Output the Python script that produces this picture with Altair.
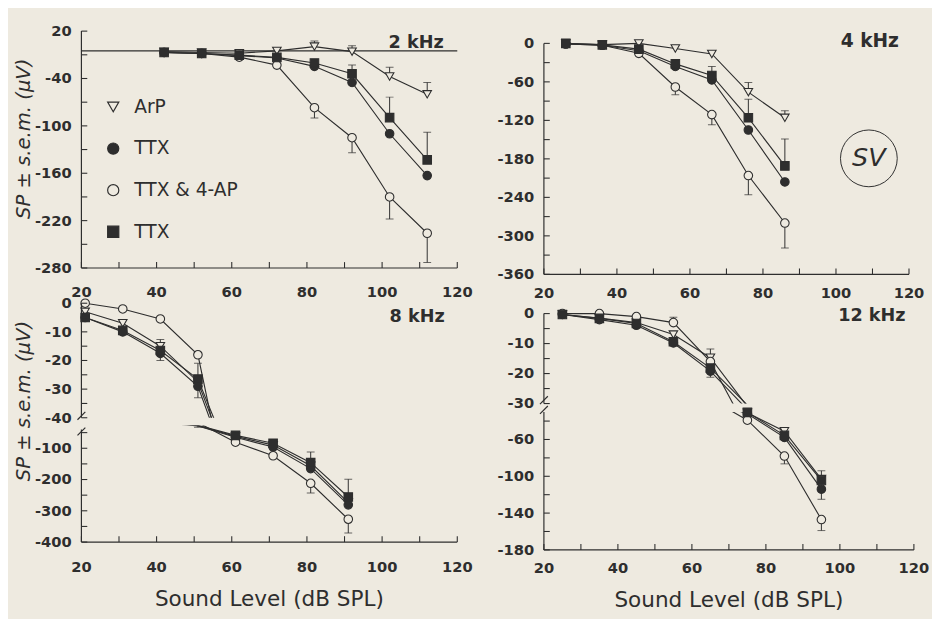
import altair as alt
import pandas as pd

SERIES = ["ArP", "TTX", "TTX & 4-AP", "TTX2"]
SHAPES = ["triangle-down", "circle", "circle", "square"]
INK = "#2e2e2e"
BG = "#eeeae0"
FILLS = [BG, INK, BG, INK]
STROKES = [INK, INK, INK, INK]
FONT = "DejaVu Sans"

X_LABELS = [20, 40, 60, 80, 100, 120]
X_TICKS = [20, 30, 40, 50, 60, 70, 80, 90, 100, 110, 120]

# ---------------- 2 kHz ----------------
X_2K = [42, 52, 62, 72, 82, 92, 102, 112]
ARP_2K = [-6, -7, -8, -5, 0.4, -6, -37.5, -60]
TTX_2K = [-7, -8.3, -11, -14, -24.6, -45, -110, -163]
TTX4AP_2K = [-7, -8.3, -13, -23, -77, -115, -190, -236]
TTX2_2K = [-7, -8.3, -10.4, -13.3, -20.4, -34, -89.6, -143]
ARP_2K_ERR = [0, 0, 0, 0, 7, 7.5, 11.7, 15]
TTX_2K_ERR = [0, 0, 0, 0, 0, 0, 0, 0]
TTX4AP_2K_ERR = [0, 0, 0, 0, -13, -19, -28, -37]
TTX2_2K_ERR = [0, 0, 0, 0, 0, 11, 26, 35]
BASELINE_2K = -5
Y_LABELS_2K = [20, -40, -100, -160, -220, -280]
Y_TICKS_2K = [20, -10, -40, -70, -100, -130, -160, -190, -220, -250, -280]

# ---------------- 4 kHz ----------------
X_4K = [26, 36, 46, 56, 66, 76, 86]
ARP_4K = [0, -2, 0, -8, -16.5, -76, -116]
TTX_4K = [-1, -3, -11.5, -36, -57, -135, -216]
TTX4AP_4K = [-1, -3, -15.5, -68, -111, -206, -280]
TTX2_4K = [0, -2.3, -9, -32, -50, -116, -191]
ARP_4K_ERR = [0, 0, 0, 0, 0, 15, 11]
TTX_4K_ERR = [0, 0, 0, 0, 0, 0, 0]
TTX4AP_4K_ERR = [0, 0, 0, -12, -16, -30, -39]
TTX2_4K_ERR = [0, 0, 0, 0, 14, 29, 42]
Y_LABELS_4K = [0, -60, -120, -180, -240, -300, -360]
Y_TICKS_4K = [0, -30, -60, -90, -120, -150, -180, -210, -240, -270, -300, -330, -360]

# ---------------- 8 kHz ----------------
X_8K = [21, 31, 41, 51, 61, 71, 81, 91]
ARP_8K = [-3, -7, -15, -27.5, -62, -90, -156, -274]
TTX_8K = [-5, -10, -17.5, -29, -65, -96, -165, -281]
TTX4AP_8K = [0, -2, -5.5, -18, -80.6, -124, -212, -327]
TTX2_8K = [-5, -9.5, -16.5, -26.5, -58.8, -84, -146, -256]
ARP_8K_ERR = [0, 0, 0, 0, 0, 0, 0, 0]
TTX_8K_ERR = [0, 0, -2.5, -4, 0, 0, 0, 0]
TTX4AP_8K_ERR = [0, 0, 0, 0, 0, 0, -31, -44]
TTX2_8K_ERR = [0, 0, 3.8, 5.5, 0, 0, 34, 57]
Y_LABELS_8K_UP = [0, -10, -20, -30, -40]
Y_TICKS_8K_UP = [0, -5, -10, -15, -20, -25, -30, -35, -40]
Y_LABELS_8K_LO = [-100, -200, -300, -400]
Y_TICKS_8K_LO = [-50, -100, -150, -200, -250, -300, -350, -400]

# ---------------- 12 kHz ----------------
X_12K = [25, 35, 45, 55, 65, 75, 85, 95]
ARP_12K = [-0.3, -1.5, -3, -7, -14.7, -31, -51, -103]
TTX_12K = [-0.3, -2, -3.9, -9.8, -19.2, -32, -57.7, -114]
TTX4AP_12K = [0, 0, -1, -3, -16, -39, -78, -147]
TTX2_12K = [-0.3, -1.6, -3.3, -9.4, -18.2, -30.5, -55.5, -104.5]
ARP_12K_ERR = [0, 0, 0, 0, 2.9, 0, 0, 0]
TTX_12K_ERR = [0, 0, 0, 0, -2, 0, 0, -11]
TTX4AP_12K_ERR = [0, 0, 0, 1.8, 0, 0, -8.5, -12]
TTX2_12K_ERR = [0, 0, 0, 0, 0, 0, 0, 10.5]
Y_LABELS_12K_UP = [0, -10, -20, -30]
Y_TICKS_12K_UP = [0, -5, -10, -15, -20, -25, -30]
Y_LABELS_12K_LO = [-60, -100, -140, -180]
Y_TICKS_12K_LO = [-40, -60, -80, -100, -120, -140, -160, -180]

Y_TITLE = "SP ± s.e.m. (μV)"
X_TITLE = "Sound Level (dB SPL)"


def long_df(xs, vals, errs):
    rows = []
    for s, vs, es in zip(SERIES, vals, errs):
        for x, v, e in zip(xs, vs, es):
            rows.append({"series": s, "x": x, "v": v, "err": e, "end": v + e})
    return pd.DataFrame(rows)


LEG = alt.Legend(
    title=None, orient="none", legendX=23, legendY=68, direction="vertical",
    labelExpr="datum.label == 'TTX2' ? 'TTX' : datum.label",
    labelFont=FONT, labelFontSize=19, labelColor=INK, symbolSize=130,
    symbolStrokeWidth=1.2, rowPadding=22.5, labelOffset=12,
)

ONE = pd.DataFrame({"a": [0]})


def text_layer(text, x, y, size=15, weight="bold", style="normal", angle=0):
    return alt.Chart(ONE).mark_text(
        text=text, font=FONT, fontSize=size, color=INK, fontWeight=weight,
        fontStyle=style, align="center", baseline="middle", angle=angle,
    ).encode(x=alt.value(x), y=alt.value(y))


def slash(y):
    return alt.Chart(ONE).mark_rule(color=INK, strokeWidth=1.2).encode(
        x=alt.value(-4), x2=alt.value(4), y=alt.value(y + 4), y2=alt.value(y - 4))


def panel(df, w, h, dom, span, ylabels, yticks, keep, xlab=None, ytitle_y=None,
          legend=False, notes=(), baseline=None, breaks=()):
    xsc = alt.Scale(domain=[20, 120], nice=False, zero=False)
    ysc = alt.Scale(domain=dom, nice=False, zero=False)
    X = alt.X("x:Q", scale=xsc, axis=None)
    Y = alt.Y("v:Q", scale=ysc, axis=None)

    base = alt.Chart(df)
    layers = []
    if baseline is not None:
        layers.append(alt.Chart(pd.DataFrame({"b": [baseline]})).mark_rule(
            color=INK, strokeWidth=1.3).encode(y=alt.Y("b:Q", scale=ysc, axis=None)))
    layers.append(base.mark_line(color=INK, strokeWidth=1.15, clip=True).encode(
        x=X, y=Y, detail="series:N", order="x:Q"))
    eb = base.transform_filter("datum.err != 0")
    layers.append(eb.mark_rule(color=INK, strokeWidth=1, clip=True).encode(
        x=X, y=Y, y2="end:Q"))
    layers.append(eb.mark_tick(color=INK, orient="horizontal", size=8, thickness=1,
                               clip=True).encode(x=X, y=alt.Y("end:Q", scale=ysc, axis=None)))
    leg = LEG if legend else None
    layers.append(base.transform_filter(keep).mark_point(
        filled=True, size=76, strokeWidth=1.1, opacity=1).encode(
        x=X, y=Y,
        shape=alt.Shape("series:N", scale=alt.Scale(domain=SERIES, range=SHAPES), legend=leg),
        fill=alt.Fill("series:N", scale=alt.Scale(domain=SERIES, range=FILLS), legend=leg),
        stroke=alt.Stroke("series:N", scale=alt.Scale(domain=SERIES, range=STROKES), legend=leg),
    ))
    # y axis: inward ticks, domain line, labels
    layers.append(alt.Chart(pd.DataFrame({"t": yticks})).mark_rule(
        color=INK, strokeWidth=1.1).encode(
        y=alt.Y("t:Q", scale=ysc, axis=None), x=alt.value(0), x2=alt.value(6)))
    layers.append(alt.Chart(pd.DataFrame({"a": [span[0]], "b": [span[1]]})).mark_rule(
        color=INK, strokeWidth=1.2).encode(
        y=alt.Y("a:Q", scale=ysc, axis=None), y2="b:Q", x=alt.value(0)))
    ylab_df = pd.DataFrame({"t": ylabels, "s": [str(v) for v in ylabels]})
    layers.append(alt.Chart(ylab_df).mark_text(
        font=FONT, fontSize=15, fontWeight="bold", color=INK, align="right",
        baseline="middle").encode(
        y=alt.Y("t:Q", scale=ysc, axis=None), x=alt.value(-10), text="s:N"))
    if ytitle_y is not None:
        layers.append(text_layer(Y_TITLE, -59, ytitle_y, size=20, weight="normal",
                                 style="italic", angle=270))
    if xlab is not None:
        layers.append(alt.Chart(pd.DataFrame({"a": [20], "b": [120]})).mark_rule(
            color=INK, strokeWidth=1.2).encode(
            x=alt.X("a:Q", scale=xsc, axis=None), x2="b:Q", y=alt.value(h)))
        layers.append(alt.Chart(pd.DataFrame({"t": X_TICKS})).mark_rule(
            color=INK, strokeWidth=1.1).encode(
            x=alt.X("t:Q", scale=xsc, axis=None), y=alt.value(h), y2=alt.value(h - 6)))
        xlab_df = pd.DataFrame({"t": X_LABELS, "s": [str(v) for v in X_LABELS]})
        layers.append(alt.Chart(xlab_df).mark_text(
            font=FONT, fontSize=15, fontWeight="bold", color=INK, align="center",
            baseline="middle").encode(
            x=alt.X("t:Q", scale=xsc, axis=None), y=alt.value(h + xlab["dy"]), text="s:N"))
        if "ty" in xlab:
            layers.append(text_layer(X_TITLE, w / 2, h + xlab["ty"], size=22, weight="normal"))
    for n in notes:
        layers.append(text_layer(n["text"], n["x"], n["y"], size=n.get("size", 18),
                                 weight=n.get("weight", "bold"), style=n.get("style", "normal")))
        if n.get("ring"):
            layers.append(alt.Chart(ONE).mark_point(
                shape="circle", size=n["ring"], color=INK, strokeWidth=1, filled=False,
                opacity=1).encode(x=alt.value(n["x"]), y=alt.value(n["y"])))
    for b in breaks:
        layers.append(slash(b))
    return alt.layer(*layers).properties(width=w, height=h)


df2 = long_df(X_2K, [ARP_2K, TTX_2K, TTX4AP_2K, TTX2_2K],
              [ARP_2K_ERR, TTX_2K_ERR, TTX4AP_2K_ERR, TTX2_2K_ERR])
df4 = long_df(X_4K, [ARP_4K, TTX_4K, TTX4AP_4K, TTX2_4K],
              [ARP_4K_ERR, TTX_4K_ERR, TTX4AP_4K_ERR, TTX2_4K_ERR])
df8 = long_df(X_8K, [ARP_8K, TTX_8K, TTX4AP_8K, TTX2_8K],
              [ARP_8K_ERR, TTX_8K_ERR, TTX4AP_8K_ERR, TTX2_8K_ERR])
df12 = long_df(X_12K, [ARP_12K, TTX_12K, TTX4AP_12K, TTX2_12K],
               [ARP_12K_ERR, TTX_12K_ERR, TTX4AP_12K_ERR, TTX2_12K_ERR])

ALL = "datum.v == datum.v"

tl = panel(df2, 384, 242, [-280, 20], (20, -280), Y_LABELS_2K, Y_TICKS_2K, ALL,
           xlab={"dy": 25}, ytitle_y=110, legend=True, baseline=BASELINE_2K,
           notes=[{"text": "2 kHz", "x": 342, "y": 12, "size": 18}])
blu = panel(df8, 384, 145, [-40, 9.57], (0, -40), Y_LABELS_8K_UP, Y_TICKS_8K_UP,
            "datum.v >= -40", ytitle_y=128,
            notes=[{"text": "8 kHz", "x": 343, "y": 42, "size": 18}], breaks=[143])
bll = panel(df8, 384, 119, [-400, -27.5], (-40, -400), Y_LABELS_8K_LO, Y_TICKS_8K_LO,
            "datum.v < -40", xlab={"dy": 26, "ty": 58}, breaks=[6])

tr = panel(df4, 373, 248.5, [-360, 19.1], (0, -360), Y_LABELS_4K, Y_TICKS_4K, ALL,
           xlab={"dy": 19.5},
           notes=[{"text": "4 kHz", "x": 333, "y": 10, "size": 19},
                  {"text": "SV", "x": 332, "y": 130, "size": 26, "weight": "normal",
                   "style": "italic", "ring": 3364}])
bru = panel(df12, 378, 123.5, [-30, 10.3], (0, -30), Y_LABELS_12K_UP, Y_TICKS_12K_UP,
            "datum.v >= -30",
            notes=[{"text": "12 kHz", "x": 335, "y": 34.5, "size": 18}], breaks=[120])
brl = panel(df12, 378, 141, [-180, -30], (-30, -180), Y_LABELS_12K_LO, Y_TICKS_12K_LO,
            "datum.v < -30", xlab={"dy": 19, "ty": 51}, breaks=[-2])

left = alt.vconcat(tl, blu, bll, spacing=8, bounds="flush")
right = alt.vconcat(tr, bru, brl, spacing=8, bounds="flush")
chart = alt.hconcat(left, right, spacing=22.5).properties(
    background=BG, padding={"left": 5, "top": 9, "right": 2, "bottom": 2}
).configure_view(stroke="transparent")

chart.save("out.html", embed_options={"renderer": "svg", "actions": False})
